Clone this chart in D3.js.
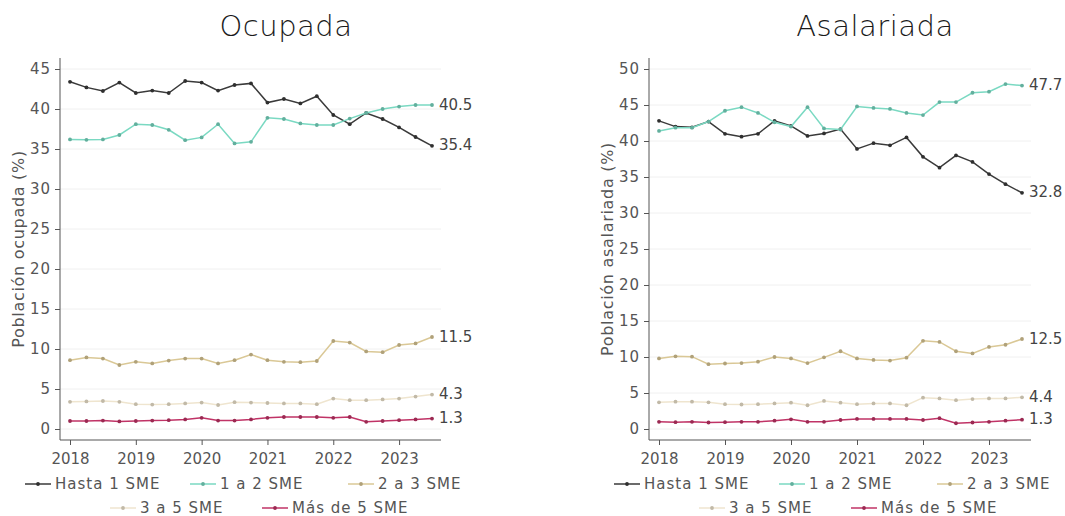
<!DOCTYPE html>
<html><head><meta charset="utf-8">
<script src="https://cdn.jsdelivr.net/npm/d3@7"></script>
<style>
html,body{margin:0;padding:0;background:#fff;}
svg{display:block;font-family:"DejaVu Sans",sans-serif;}
</style></head>
<body>
<svg id="chart" width="1065" height="516"></svg>
<script>
// ---- data ----
const periods = [2018.00, 2018.25, 2018.50, 2018.75, 2019.00, 2019.25, 2019.50, 2019.75,
                 2020.00, 2020.25, 2020.50, 2020.75, 2021.00, 2021.25, 2021.50, 2021.75,
                 2022.00, 2022.25, 2022.50, 2022.75, 2023.00, 2023.25, 2023.50];
const seriesNames = ["Hasta 1 SME", "1 a 2 SME", "2 a 3 SME", "3 a 5 SME", "Más de 5 SME"];
const seriesColors = ["#3a3a3a", "#7ad9c2", "#dac896", "#efe5cf", "#c03366"];
const xTicks = [2018, 2019, 2020, 2021, 2022, 2023];

const ocupadaHasta1 = [43.4, 42.7, 42.25, 43.3, 42.0, 42.3, 42.0, 43.5, 43.3, 42.3, 43.0, 43.2, 40.8, 41.25, 40.7, 41.6, 39.25, 38.1, 39.5, 38.75, 37.7, 36.5, 35.4];
const ocupada1a2    = [36.2, 36.15, 36.2, 36.75, 38.1, 38.0, 37.4, 36.1, 36.45, 38.1, 35.7, 35.9, 38.9, 38.75, 38.2, 38.0, 38.0, 38.8, 39.5, 40.0, 40.3, 40.5, 40.5];
const ocupada2a3    = [8.6, 8.95, 8.8, 8.0, 8.4, 8.2, 8.55, 8.8, 8.8, 8.2, 8.6, 9.3, 8.6, 8.4, 8.35, 8.5, 11.0, 10.8, 9.7, 9.6, 10.5, 10.7, 11.5];
const ocupada3a5    = [3.4, 3.45, 3.5, 3.4, 3.1, 3.05, 3.1, 3.2, 3.3, 3.0, 3.35, 3.3, 3.25, 3.2, 3.2, 3.1, 3.8, 3.6, 3.6, 3.7, 3.8, 4.05, 4.3];
const ocupadaMas5   = [1.0, 1.0, 1.05, 0.95, 1.0, 1.05, 1.1, 1.2, 1.4, 1.05, 1.05, 1.2, 1.4, 1.5, 1.5, 1.5, 1.4, 1.5, 0.9, 1.0, 1.1, 1.2, 1.3];

const asalHasta1 = [42.8, 42.0, 41.9, 42.7, 41.0, 40.6, 41.0, 42.8, 42.1, 40.7, 41.05, 41.65, 38.9, 39.7, 39.4, 40.5, 37.8, 36.3, 38.0, 37.1, 35.4, 34.0, 32.8];
const asal1a2    = [41.4, 41.85, 41.85, 42.7, 44.2, 44.7, 43.9, 42.6, 42.0, 44.7, 41.75, 41.6, 44.8, 44.6, 44.45, 43.9, 43.6, 45.4, 45.4, 46.7, 46.85, 47.9, 47.7];
const asal2a3    = [9.8, 10.1, 10.05, 9.0, 9.1, 9.15, 9.35, 10.0, 9.8, 9.15, 9.95, 10.8, 9.8, 9.6, 9.5, 9.9, 12.25, 12.1, 10.8, 10.5, 11.4, 11.7, 12.5];
const asal3a5    = [3.7, 3.8, 3.8, 3.7, 3.45, 3.4, 3.45, 3.55, 3.65, 3.3, 3.9, 3.65, 3.45, 3.55, 3.55, 3.3, 4.35, 4.25, 4.0, 4.15, 4.25, 4.25, 4.4];
const asalMas5   = [1.0, 0.95, 1.0, 0.9, 0.95, 1.0, 1.0, 1.15, 1.35, 1.0, 1.0, 1.25, 1.4, 1.4, 1.4, 1.4, 1.25, 1.5, 0.8, 0.9, 1.0, 1.15, 1.3];

const ocupadaTicks = [0, 5, 10, 15, 20, 25, 30, 35, 40, 45];
const asalTicks = [0, 5, 10, 15, 20, 25, 30, 35, 40, 45, 50];

const panels = [
  {title: "Ocupada", ylabel: "Población ocupada (%)", ymax: 45, ticks: ocupadaTicks,
   series: [ocupadaHasta1, ocupada1a2, ocupada2a3, ocupada3a5, ocupadaMas5],
   axisX: 60, x0: 70, x1: 432, xEnd: 441, ylabX: 19},
  {title: "Asalariada", ylabel: "Población asalariada (%)", ymax: 50, ticks: asalTicks,
   series: [asalHasta1, asal1a2, asal2a3, asal3a5, asalMas5],
   axisX: 649, x0: 659, x1: 1022, xEnd: 1031, ylabX: 608}
];

const svg = d3.select("#chart");
const yTop = 58, yBottom = 440, yZero = 429, yMaxPix = 69;
const axisColor = "#555";
const textColor = "#555";

panels.forEach(p => {
  const g = svg.append("g");
  const x = d3.scaleLinear().domain([periods[0], periods[periods.length - 1]]).range([p.x0, p.x1]);
  const y = d3.scaleLinear().domain([0, p.ymax]).range([yZero, yMaxPix]);

  // gridlines
  g.selectAll(".grid").data(p.ticks).join("line")
    .attr("x1", p.axisX).attr("x2", p.xEnd)
    .attr("y1", d => y(d)).attr("y2", d => y(d))
    .attr("stroke", "#f0f0f0").attr("stroke-width", 1);

  // y axis
  const yAxis = d3.axisLeft(y).tickValues(p.ticks).tickSize(5).tickPadding(4).tickFormat(d3.format("d"));
  const ya = g.append("g").attr("transform", `translate(${p.axisX},0)`).call(yAxis);
  ya.select(".domain").remove();
  ya.selectAll(".tick line").attr("stroke", axisColor);
  ya.selectAll(".tick text").attr("fill", textColor).style("font-size", "15px")
    .style("letter-spacing", "1px").style("font-family", "DejaVu Sans");
  g.append("line").attr("x1", p.axisX).attr("x2", p.axisX).attr("y1", yTop).attr("y2", yBottom)
    .attr("stroke", axisColor).attr("stroke-width", 1);

  // x axis
  const xAxis = d3.axisBottom(x).tickValues(xTicks).tickSize(5).tickPadding(8).tickFormat(d3.format("d"));
  const xa = g.append("g").attr("transform", `translate(0,${yBottom})`).call(xAxis);
  xa.select(".domain").remove();
  xa.selectAll(".tick line").attr("stroke", axisColor);
  xa.selectAll(".tick text").attr("fill", textColor).style("font-size", "15px")
    .style("font-family", "DejaVu Sans");
  g.append("line").attr("x1", p.axisX).attr("x2", p.xEnd).attr("y1", yBottom).attr("y2", yBottom)
    .attr("stroke", axisColor).attr("stroke-width", 1);

  // title
  g.append("text").attr("x", p.axisX + 226).attr("y", 36).attr("text-anchor", "middle")
    .attr("fill", "#1a1a1a").style("font-size", "29px").style("font-weight", "200")
    .style("letter-spacing", "0.5px").text(p.title);

  // y label
  g.append("text").attr("transform", `translate(${p.ylabX},${(yTop + yBottom) / 2}) rotate(-90)`)
    .attr("text-anchor", "middle").attr("dominant-baseline", "middle")
    .attr("fill", textColor).style("font-size", "16px").style("letter-spacing", "0.7px").text(p.ylabel);

  // lines
  const line = d3.line().x((d, i) => x(periods[i])).y(d => y(d));
  p.series.forEach((s, k) => {
    const c = seriesColors[k];
    g.append("path").datum(s).attr("d", line).attr("fill", "none")
      .attr("stroke", c).attr("stroke-width", 1.5);
    g.selectAll(null).data(s).join("circle")
      .attr("cx", (d, i) => x(periods[i])).attr("cy", d => y(d)).attr("r", 1.9)
      .attr("fill", d3.color(c).darker(0.6));
    const last = s[s.length - 1];
    g.append("text").attr("x", x(periods[periods.length - 1]) + 7).attr("y", y(last))
      .attr("dominant-baseline", "middle").attr("fill", "#444")
      .style("font-size", "15px").text(d3.format(".1f")(last));
  });

  // legend
  const legOffsets = [[-35, 484], [130, 484], [288, 484], [50, 508], [202, 508]];
  seriesNames.forEach((name, k) => {
    const lx = p.axisX + legOffsets[k][0], ly = legOffsets[k][1];
    const c = seriesColors[k];
    g.append("line").attr("x1", lx).attr("x2", lx + 26).attr("y1", ly).attr("y2", ly)
      .attr("stroke", c).attr("stroke-width", 1.5);
    g.append("circle").attr("cx", lx + 13).attr("cy", ly).attr("r", 1.9).attr("fill", d3.color(c).darker(0.6));
    g.append("text").attr("x", lx + 30).attr("y", ly).attr("dominant-baseline", "middle")
      .attr("fill", textColor).style("font-size", "15px").style("letter-spacing", "1px").text(name);
  });
});
</script>
</body></html>
